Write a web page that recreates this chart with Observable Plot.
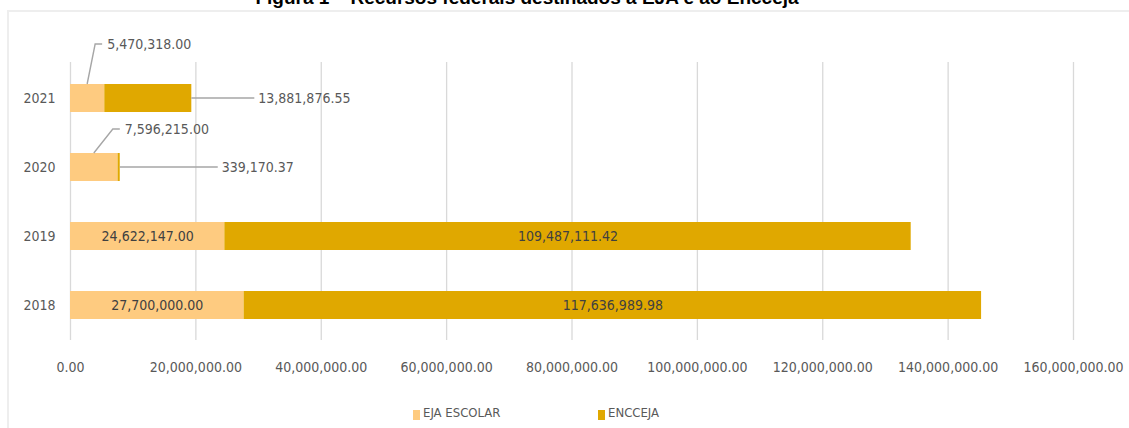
<!DOCTYPE html>
<html>
<head>
<meta charset="utf-8">
<script src="https://cdn.jsdelivr.net/npm/d3@7"></script>
<script src="https://cdn.jsdelivr.net/npm/@observablehq/plot@0.6"></script>
<style>
  html, body { margin: 0; padding: 0; background: #fff; overflow: hidden; width: 1129px; height: 428px; }
  #wrap { position: relative; width: 1129px; height: 428px; overflow: hidden; }
  #frame { position: absolute; left: 7px; top: 10px; width: 1200px; height: 500px; border: 2px solid #eeeeee; box-sizing: border-box; }
  #title { position: absolute; left: 0; width: 1054px; top: -13px; text-align: center; font-family: "Liberation Sans", Arial, sans-serif; font-weight: bold; font-size: 19px; color: #000; white-space: nowrap; }
  #chart { position: absolute; left: 0; top: 0; }
  #legend { position: absolute; left: 0; top: 0; font-family: "DejaVu Sans Condensed", "DejaVu Sans", sans-serif; font-stretch: condensed; font-size: 13px; color: #595959; }
  .item { position: absolute; top: 405px; display: flex; align-items: flex-end; white-space: nowrap; line-height: 16px; }
  .sw { width: 7px; height: 10px; margin-right: 3px; margin-bottom: 1px; }
</style>
</head>
<body>
<div id="wrap">
  <div id="frame"></div>
  <div id="title">Figura 1 – Recursos federais destinados à EJA e ao Encceja</div>
  <div id="chart"></div>
  <div id="legend"></div>
</div>
<script>
// ---- data ----
const years = ["2021", "2020", "2019", "2018"];
const ejaEscolar = [5470318.00, 7596215.00, 24622147.00, 27700000.00];
const encceja = [13881876.55, 339170.37, 109487111.42, 117636989.98];
const seriesNames = ["EJA ESCOLAR", "ENCCEJA"];
const seriesColors = ["#FECB80", "#E0A800"];
const xTicks = [0, 20000000, 40000000, 60000000, 80000000, 100000000, 120000000, 140000000, 160000000];
const insideLabelYears = ["2019", "2018"];

// ---- derived table ----
const fmt = d3.format(",.2f");
const rows = [];
years.forEach((y, i) => {
  rows.push({year: y, series: seriesNames[0], value: ejaEscolar[i]});
  rows.push({year: y, series: seriesNames[1], value: encceja[i]});
});
const outside = years.map((y, i) => ({year: y, eja: ejaEscolar[i], enc: encceja[i], total: ejaEscolar[i] + encceja[i]}))
  .filter(d => !insideLabelYears.includes(d.year));

// annotation layout (pixel offsets of the callouts)
const ejaCallout = {"2021": {dx: 20, dy: -40}, "2020": {dx: 31, dy: -24}};
const encGap = {"2021": 67, "2020": 102};
const legendLeft = [413, 598];

const labelFont = 14;
const fontFam = '"DejaVu Sans Condensed", "DejaVu Sans", sans-serif';

function bandw(s) { return typeof s.bandwidth === "function" ? s.bandwidth() : (s.bandwidth || 0); }

function leaders(index, scales) {
  const g = d3.create("svg:g").attr("fill", "none").attr("stroke", "#a6a6a6").attr("stroke-width", 1.4);
  const bw = bandw(scales.y);
  for (const d of outside) {
    const yTop = scales.y(d.year);
    const yMid = yTop + bw / 2;
    const sx = scales.x(d.eja / 2);
    const c = ejaCallout[d.year];
    const tx = sx + c.dx, ty = yTop + c.dy;
    g.append("path").attr("d", `M${sx},${yTop}L${tx - 12},${ty}L${tx - 5},${ty}`);
    const ex = scales.x(d.total);
    g.append("path").attr("d", `M${ex},${yMid}L${ex + encGap[d.year] - 4},${yMid}`);
  }
  return g.node();
}

function calloutLabels(index, scales) {
  const g = d3.create("svg:g").attr("fill", "#595959").attr("font-size", labelFont).attr("text-anchor", "start");
  const bw = bandw(scales.y);
  for (const d of outside) {
    const yTop = scales.y(d.year);
    const c = ejaCallout[d.year];
    g.append("text").attr("x", scales.x(d.eja / 2) + c.dx).attr("y", yTop + c.dy).attr("dy", "0.36em").text(fmt(d.eja));
    g.append("text").attr("x", scales.x(d.total) + encGap[d.year]).attr("y", yTop + bw / 2).attr("dy", "0.36em").text(fmt(d.enc));
  }
  return g.node();
}

const plot = Plot.plot({
  width: 1129,
  height: 392,
  marginLeft: 70,
  marginRight: 56,
  marginTop: 62,
  marginBottom: 52,
  style: {fontFamily: fontFam, fontStretch: "condensed", fontSize: labelFont + "px", color: "#595959", background: "transparent", overflow: "visible"},
  x: {domain: [0, 160000000], ticks: xTicks, tickFormat: fmt, label: null},
  y: {domain: years, paddingInner: 0.6, paddingOuter: 0.3, label: null},
  color: {domain: seriesNames, range: seriesColors},
  marks: [
    Plot.gridX(xTicks, {stroke: "#d9d9d9", strokeOpacity: 1, strokeWidth: 1.3}),
    Plot.axisX({ticks: xTicks, tickFormat: fmt, tickSize: 0, tickPadding: 22, fontSize: labelFont, label: null}),
    Plot.axisY({tickSize: 0, tickPadding: 15, fontSize: 14, label: null}),
    Plot.barX(rows, Plot.stackX({x: "value", y: "year", fill: "series", z: "series"})),
    Plot.text(rows, Plot.stackX({x: "value", y: "year", z: "series",
      text: d => insideLabelYears.includes(d.year) ? fmt(d.value) : "", fill: "#404040", fontSize: labelFont})),
    leaders,
    calloutLabels
  ]
});
document.getElementById("chart").appendChild(plot);

// legend
const legend = d3.select("#legend");
seriesNames.forEach((s, i) => {
  const it = legend.append("div").attr("class", "item").style("left", legendLeft[i] + "px");
  it.append("div").attr("class", "sw").style("background", seriesColors[i]);
  it.append("span").text(s);
});
</script>
</body>
</html>
